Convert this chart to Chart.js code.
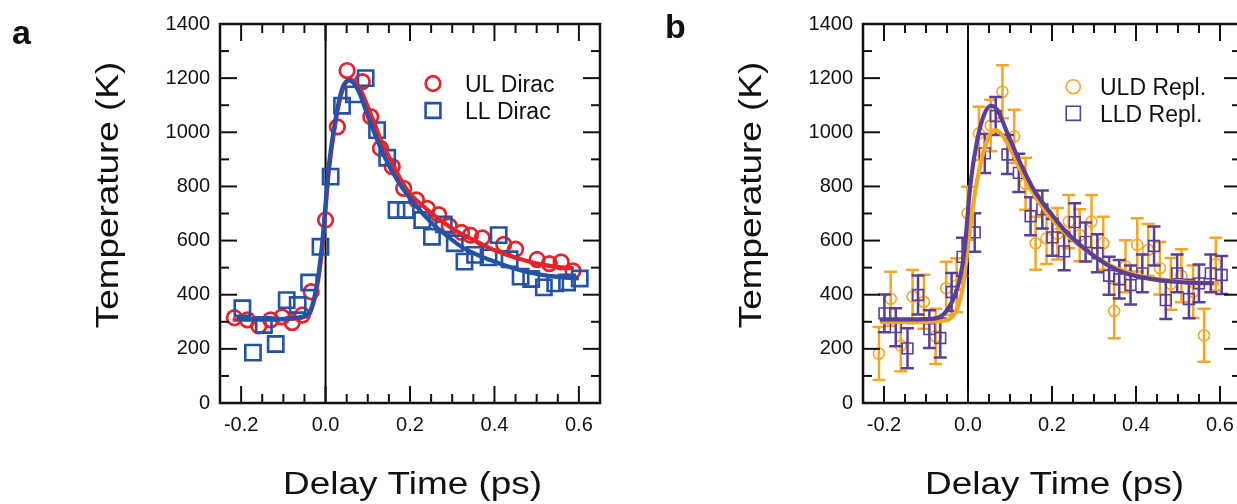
<!DOCTYPE html>
<html><head><meta charset="utf-8">
<script src="https://cdn.jsdelivr.net/npm/chart.js@4.4.1/dist/chart.umd.min.js"></script>
<style>
html,body{margin:0;padding:0;background:#fff;overflow:hidden;width:1237px;height:504px;}
#wa{position:absolute;left:0;top:0;width:618px;height:504px;}
#wb{position:absolute;left:620px;top:0;width:640px;height:504px;}
canvas{display:block;}
</style></head><body>
<div id="wa"><canvas id="ca" width="618" height="504"></canvas></div>
<div id="wb"><canvas id="cb" width="640" height="504"></canvas></div>
<script>
// ---------- axis ticks ----------
const xTickValues = [-0.2, 0.0, 0.2, 0.4, 0.6];
const xTickLabels = ['-0.2', '0.0', '0.2', '0.4', '0.6'];
const xMinorTicks = [-0.15, -0.1, -0.05, 0.05, 0.1, 0.15, 0.25, 0.3, 0.35, 0.45, 0.5, 0.55];
const yTickValues = [0, 200, 400, 600, 800, 1000, 1200, 1400];
const yTickLabels = ['0', '200', '400', '600', '800', '1000', '1200', '1400'];
const yMinorTicks = [100, 300, 500, 700, 900, 1100, 1300];

// ---------- texts ----------
const xTitle = 'Delay Time (ps)';
const yTitle = 'Temperature (K)';
const panelLabels = ['a', 'b'];

// ---------- panel a : Dirac ----------
const ulDiracTime = [-0.216,-0.185,-0.158,-0.130,-0.103,-0.079,-0.055,-0.034,0.000,0.028,0.051,0.087,0.107,0.130,0.158,0.185,0.215,0.241,0.268,0.293,0.322,0.343,0.371,0.422,0.450,0.501,0.530,0.558,0.586];
const ulDiracTemp = [315,307,285,307,318,297,325,411,676,1020,1228,1187,1058,941,873,793,750,719,696,654,630,620,610,586,568,530,515,521,488];
const llDiracTime = [-0.197,-0.172,-0.146,-0.118,-0.092,-0.066,-0.039,-0.012,0.012,0.039,0.067,0.095,0.122,0.146,0.168,0.190,0.229,0.252,0.280,0.306,0.329,0.354,0.386,0.410,0.436,0.462,0.487,0.517,0.544,0.572,0.602];
const llDiracTemp = [350,186,288,218,380,362,445,577,836,1098,1140,1200,1008,906,713,713,676,614,660,590,522,547,538,620,531,467,458,427,442,445,460];
// fitted curves
const ulFitTime = [-0.22,-0.15,-0.10,-0.07,-0.05,-0.036,-0.02,-0.008,0.008,0.024,0.039,0.058,0.078,0.105,0.134,0.154,0.193,0.233,0.272,0.312,0.351,0.39,0.43,0.469,0.509,0.548,0.588];
const ulFitTemp = [308,308,309,312,318,335,430,570,860,1040,1150,1195,1170,1075,960,898,787,725,676,633,602,571,547,528,512,503,497];
const llFitTime = [-0.21,-0.15,-0.10,-0.07,-0.05,-0.036,-0.02,-0.008,0.008,0.024,0.039,0.055,0.075,0.102,0.134,0.173,0.213,0.252,0.292,0.327,0.39,0.469,0.548,0.60];
const llFitTemp = [310,310,311,314,322,340,443,590,879,1052,1160,1192,1162,1052,928,815,731,664,612,572,528,487,466,460];

// ---------- panel b : replica ----------
const uldReplTime = [-0.212,-0.184,-0.160,-0.132,-0.105,-0.077,-0.052,-0.027,-0.001,0.026,0.054,0.082,0.110,0.137,0.161,0.187,0.213,0.240,0.266,0.294,0.322,0.348,0.375,0.403,0.429,0.457,0.483,0.508,0.536,0.562,0.590];
const uldReplTemp = [183,385,212,393,374,246,424,435,701,996,1025,1150,985,810,590,608,625,670,620,670,590,340,505,584,565,498,440,470,411,250,513];
const uldReplErr  = [98,100,95,98,100,102,98,100,98,98,95,98,98,96,98,95,95,98,96,98,98,101,96,98,96,97,96,98,97,98,97];
const lldReplTime = [-0.199,-0.172,-0.144,-0.119,-0.092,-0.066,-0.039,-0.013,0.016,0.040,0.066,0.094,0.121,0.149,0.177,0.201,0.229,0.254,0.280,0.308,0.336,0.360,0.387,0.415,0.443,0.471,0.498,0.526,0.550,0.578,0.604];
const lldReplTemp = [331,280,202,399,273,240,410,540,630,922,1060,918,850,690,715,612,560,668,595,553,470,457,436,479,580,380,479,384,442,479,473];
const lldReplErr  = [70,70,74,72,70,72,70,70,71,72,70,72,71,70,70,68,70,70,72,70,70,71,72,70,72,70,70,71,70,70,70];
const uldFitTime = [-0.21,-0.10,-0.06,-0.04,-0.025,-0.012,-0.001,0.014,0.030,0.046,0.062,0.078,0.102,0.133,0.165,0.205,0.245,0.28,0.33,0.38,0.43,0.48,0.53,0.598];
const uldFitTemp = [300,300,303,315,350,430,570,750,885,971,1008,996,935,836,750,670,608,565,515,482,462,452,446,442];
const lldFitTime = [-0.21,-0.15,-0.10,-0.07,-0.056,-0.036,-0.020,-0.009,0.006,0.022,0.038,0.054,0.070,0.094,0.125,0.157,0.197,0.237,0.276,0.296,0.336,0.375,0.415,0.455,0.495,0.534,0.585];
const lldFitTemp = [309,309,310,316,331,380,454,555,811,971,1064,1098,1082,996,885,787,701,627,572,548,506,479,464,454,448,444,442];

// ---------- style ----------
const RED = '#E4232B', BLUE = '#2452A6', ORANGE = '#F6A623', PURPLE = '#5A3F99';
const FONT = "'Liberation Sans', Arial, Helvetica, sans-serif";
Chart.defaults.font.family = FONT;

const pts = (xs, ys) => xs.map((v, i) => ({x: v, y: ys[i]}));

function drawMarker(ctx, style, color, r, bw, x, y) {
  ctx.save();
  ctx.strokeStyle = color; ctx.lineWidth = bw;
  ctx.beginPath();
  if (style === 'circle') ctx.arc(x, y, r, 0, Math.PI * 2);
  else { const s = r * Math.SQRT1_2; ctx.rect(x - s, y - s, 2 * s, 2 * s); }
  ctx.stroke();
  ctx.restore();
}

const decorPlugin = {
  id: 'decor',
  beforeDatasetsDraw(chart) {
    const {ctx, chartArea: a, scales: {x}} = chart;
    const p = x.getPixelForValue(0);
    ctx.save();
    ctx.strokeStyle = '#000'; ctx.lineWidth = 2;
    ctx.beginPath(); ctx.moveTo(p, a.top); ctx.lineTo(p, a.bottom); ctx.stroke();
    ctx.restore();
  },
  beforeDatasetDraw(chart, args) {
    const ds = chart.data.datasets[args.index];
    if (!ds.errors) return;
    const {ctx} = chart; const y = chart.scales.y;
    ctx.save();
    ctx.strokeStyle = ds.pointBorderColor; ctx.lineWidth = 2.5;
    args.meta.data.forEach((el, i) => {
      const v = ds.data[i].y, e = ds.errors[i];
      const y1 = y.getPixelForValue(v - e), y2 = y.getPixelForValue(v + e);
      const cw = 6.5;
      ctx.beginPath();
      ctx.moveTo(el.x, y1); ctx.lineTo(el.x, y2);
      ctx.moveTo(el.x - cw, y1); ctx.lineTo(el.x + cw, y1);
      ctx.moveTo(el.x - cw, y2); ctx.lineTo(el.x + cw, y2);
      ctx.stroke();
    });
    ctx.restore();
  },
  afterDraw(chart, args, o) {
    const {ctx, chartArea: a, scales: {x, y}} = chart;
    ctx.save();
    // frame
    ctx.strokeStyle = '#111'; ctx.lineWidth = 2.5;
    ctx.strokeRect(a.left, a.top, a.right - a.left, a.bottom - a.top);
    ctx.lineWidth = 2;
    const MAJ = 17, MIN = 9;
    const seg = (x1, y1, x2, y2) => { ctx.beginPath(); ctx.moveTo(x1, y1); ctx.lineTo(x2, y2); ctx.stroke(); };
    const xt = (v, L) => { const p = x.getPixelForValue(v); seg(p, a.bottom, p, a.bottom - L); seg(p, a.top, p, a.top + L); };
    const yt = (v, L) => { const p = y.getPixelForValue(v); seg(a.left, p, a.left + L, p); seg(a.right, p, a.right - L, p); };
    xTickValues.forEach(v => xt(v, MAJ)); xMinorTicks.forEach(v => xt(v, MIN));
    yTickValues.forEach(v => yt(v, MAJ)); yMinorTicks.forEach(v => yt(v, MIN));
    // axis titles
    ctx.fillStyle = '#111';
    ctx.font = '31px ' + FONT;
    ctx.textAlign = 'center'; ctx.textBaseline = 'alphabetic';
    ctx.save();
    ctx.translate((a.left + a.right) / 2 + 2.5, 493.5); ctx.scale(1.19, 1);
    ctx.fillText(xTitle, 0, 0);
    ctx.restore();
    ctx.save();
    ctx.translate(a.left - 102, 195); ctx.rotate(-Math.PI / 2); ctx.scale(1.19, 1);
    ctx.fillText(yTitle, 0, 0);
    ctx.restore();
    // panel label
    ctx.font = 'bold 34px ' + FONT; ctx.textAlign = 'left';
    ctx.fillText(o.letter, o.letterX, o.letterY);
    // legend
    ctx.font = '23px ' + FONT; ctx.textAlign = 'left';
    o.legend.forEach(L => {
      const ds = chart.data.datasets[L.index];
      drawMarker(ctx, ds.pointStyle, ds.pointBorderColor, L.r, L.bw, o.legX, L.y);
      ctx.fillStyle = '#111';
      ctx.fillText(ds.label, o.legTextX, L.y + 8.5);
    });
    ctx.restore();
  }
};

function makeOptions(yWidth, padRight, decor) {
  return {
    responsive: false, animation: false, devicePixelRatio: 1,
    layout: {padding: {top: 24, right: padRight, bottom: 0, left: 0}},
    plugins: {legend: {display: false}, tooltip: {enabled: false}, decor: decor},
    events: [],
    scales: {
      x: {
        type: 'linear', min: -0.25, max: 0.65,
        grid: {display: false, drawTicks: false}, border: {display: false},
        afterBuildTicks: s => { s.ticks = xTickValues.map(v => ({value: v})); },
        afterFit: s => { s.height = 101; },
        ticks: {padding: 10, color: '#111', font: {size: 20, family: FONT},
                callback: (v) => xTickLabels[xTickValues.findIndex(t => Math.abs(t - v) < 1e-9)]}
      },
      y: {
        type: 'linear', min: 0, max: 1400,
        grid: {display: false, drawTicks: false}, border: {display: false},
        afterBuildTicks: s => { s.ticks = yTickValues.map(v => ({value: v})); },
        afterFit: s => { s.width = yWidth; },
        ticks: {padding: 10, color: '#111', font: {size: 20, family: FONT},
                callback: (v) => yTickLabels[yTickValues.indexOf(v)]}
      }
    }
  };
}

const lineDs = (label, xs, ys, color, order) => ({
  label, data: pts(xs, ys), showLine: true, borderColor: color, borderWidth: 4.2,
  pointRadius: 0, cubicInterpolationMode: 'monotone', order, fill: false
});
const markDs = (label, xs, ys, color, style, r, bw, order, errs) => ({
  label, data: pts(xs, ys), showLine: false, pointStyle: style, pointRadius: r,
  pointBorderWidth: bw, pointBorderColor: color, pointBackgroundColor: 'rgba(0,0,0,0)',
  borderColor: color, backgroundColor: 'rgba(0,0,0,0)', order, errors: errs
});

new Chart(document.getElementById('ca'), {
  type: 'scatter',
  data: {datasets: [
    markDs('UL Dirac', ulDiracTime, ulDiracTemp, RED, 'circle', 7.3, 2.7, 3),
    markDs('LL Dirac', llDiracTime, llDiracTemp, BLUE, 'rect', 10.8, 2.6, 2),
    lineDs('UL Dirac fit', ulFitTime, ulFitTemp, RED, 1),
    lineDs('LL Dirac fit', llFitTime, llFitTemp, BLUE, 0)
  ]},
  options: makeOptions(220, 18, {letter: panelLabels[0], letterX: 12, letterY: 44,
    legX: 433, legTextX: 465,
    legend: [{index: 0, y: 83.5, r: 7.3, bw: 2.7}, {index: 1, y: 110.5, r: 10.5, bw: 2.6}]}),
  plugins: [decorPlugin]
});

new Chart(document.getElementById('cb'), {
  type: 'scatter',
  data: {datasets: [
    markDs('ULD Repl.', uldReplTime, uldReplTemp, ORANGE, 'circle', 5.5, 1.6, 3, uldReplErr),
    markDs('LLD Repl.', lldReplTime, lldReplTemp, PURPLE, 'rect', 7.6, 1.6, 2, lldReplErr),
    lineDs('ULD Repl. fit', uldFitTime, uldFitTemp, ORANGE, 1),
    lineDs('LLD Repl. fit', lldFitTime, lldFitTemp, PURPLE, 0)
  ]},
  options: makeOptions(243, 19, {letter: panelLabels[1], letterX: 45, letterY: 38,
    legX: 453.3, legTextX: 480,
    legend: [{index: 0, y: 86.7, r: 7, bw: 1.6}, {index: 1, y: 113.3, r: 10, bw: 1.6}]}),
  plugins: [decorPlugin]
});
</script>
</body></html>
